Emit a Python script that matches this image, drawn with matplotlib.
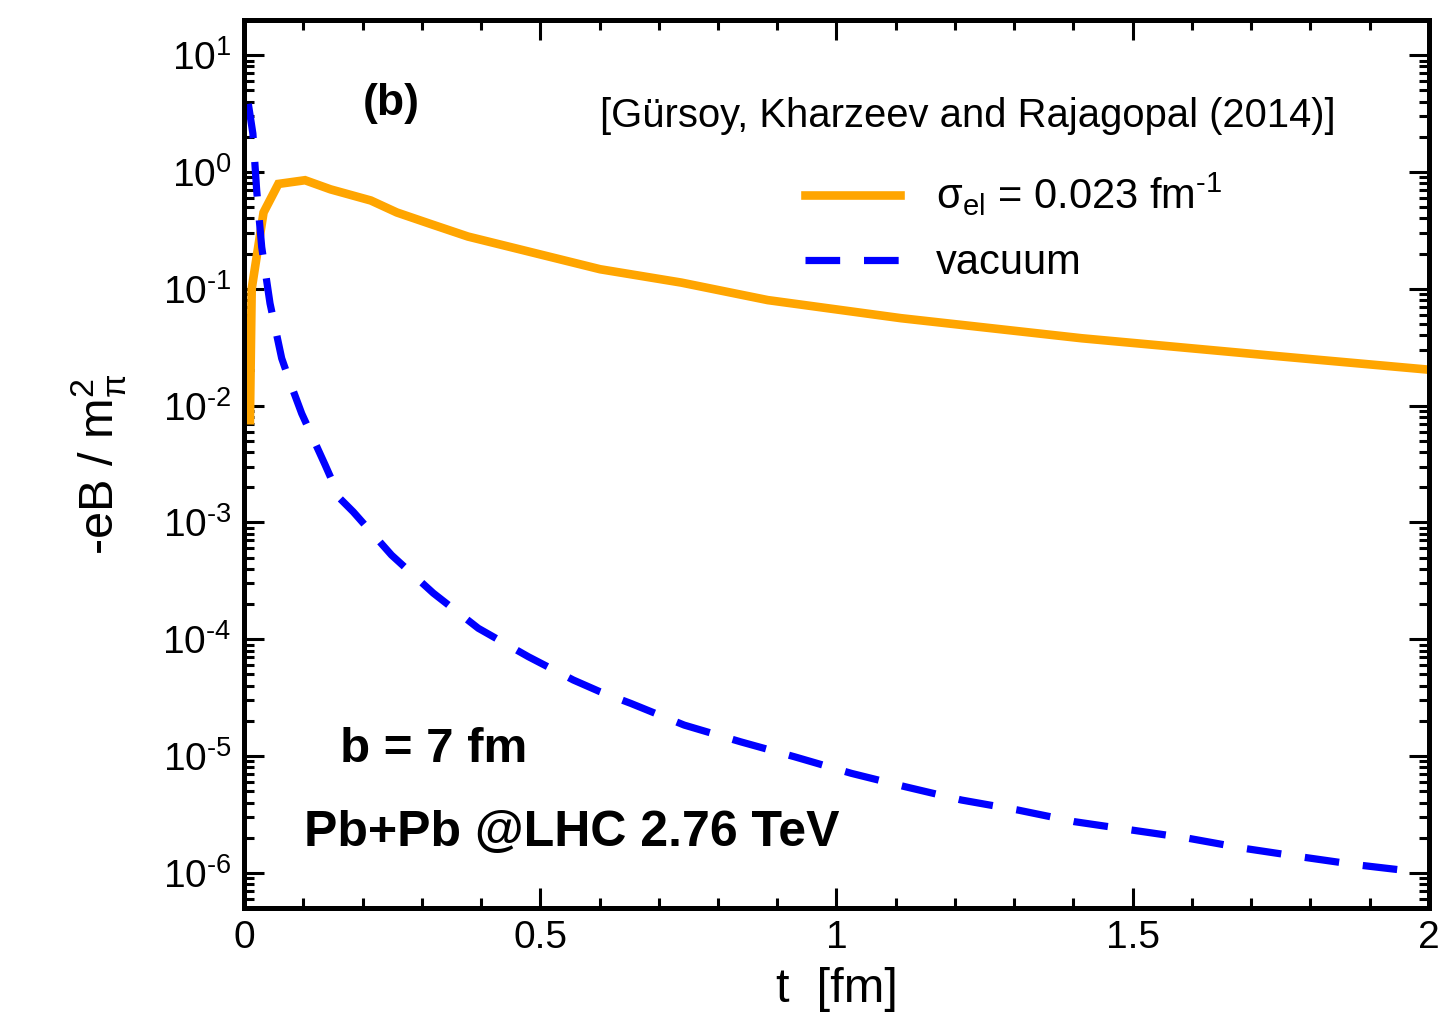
import math

import matplotlib

matplotlib.use("Agg")
import matplotlib.pyplot as plt  # noqa: E402
from matplotlib.ticker import FuncFormatter, LogLocator, MultipleLocator  # noqa: E402

plt.rcParams["font.family"] = ["Liberation Sans", "DejaVu Sans"]
plt.rcParams["mathtext.fontset"] = "custom"
plt.rcParams["mathtext.rm"] = "Liberation Sans"
plt.rcParams["mathtext.it"] = "Liberation Sans:italic"
plt.rcParams["mathtext.bf"] = "Liberation Sans:bold"
plt.rcParams["axes.unicode_minus"] = False

# sigma_el = 0.023 fm^-1
t_cond = [0.010, 0.013, 0.033, 0.058, 0.103, 0.146, 0.214, 0.258, 0.314, 0.378,
          0.601, 0.738, 0.884, 1.109, 1.414, 1.730, 1.990]
eb_cond = [0.0075, 0.10, 0.45, 0.79, 0.85, 0.71, 0.57, 0.45, 0.36, 0.28,
           0.147, 0.113, 0.080, 0.056, 0.0377, 0.0269, 0.0205]

# vacuum
t_vac = [0.0073, 0.015, 0.0214, 0.0299, 0.0439, 0.0636, 0.0776, 0.0974, 0.137, 0.162,
         0.1845, 0.249, 0.3195, 0.3955, 0.48, 0.556, 0.601, 0.653, 0.743, 0.839,
         0.929, 1.025, 1.116, 1.211, 1.306, 1.402, 1.497, 1.593, 1.688, 1.784,
         1.879, 1.980]
eb_vac = [3.83, 2.13, 0.695, 0.227, 0.075, 0.0254, 0.0159, 0.00855, 0.0031, 0.0016,
          0.00123, 5.25e-4, 2.48e-4, 1.24e-4, 7.08e-5, 4.47e-5, 3.55e-5, 2.82e-5,
          1.84e-5, 1.32e-5, 9.86e-6, 7.11e-6, 5.46e-6, 4.2e-6, 3.45e-6, 2.74e-6,
          2.33e-6, 1.98e-6, 1.62e-6, 1.37e-6, 1.17e-6, 1.02e-6]


def pow10(v, pos):
    # plain hyphen in the exponent, like the original
    e = int(round(math.log10(v)))
    return r"10$^{\text{%d}}$" % e


fig = plt.figure(figsize=(14.4, 10.26), dpi=100)
ax = fig.add_axes([244 / 1440, 1 - 908 / 1026, 1185 / 1440, 888 / 1026])

ax.plot(t_cond, eb_cond, color="#FFA500", lw=6.2, solid_joinstyle="miter",
        label=r"σ$_{\mathregular{el}}$ = 0.023 fm$^{\text{-1}}$")
ax.plot(t_vac, eb_vac, color="#0000FF", lw=5.2, dashes=(4.8, 3.3),
        label="vacuum")

ax.set_yscale("log")
ax.set_xlim(0, 2)
ax.set_ylim(5e-7, 20)

ax.xaxis.set_major_locator(MultipleLocator(0.5))
ax.xaxis.set_minor_locator(MultipleLocator(0.1))
ax.yaxis.set_major_locator(LogLocator(base=10, numticks=20))
ax.yaxis.set_minor_locator(LogLocator(base=10, subs=range(2, 10), numticks=20))
ax.yaxis.set_major_formatter(FuncFormatter(pow10))
ax.set_xticks([0, 0.5, 1, 1.5, 2], ["0", "0.5", "1", "1.5", "2"])

for s in ax.spines.values():
    s.set_linewidth(3.6)
ax.tick_params(which="both", direction="in", top=True, right=True, width=2.2,
               labelsize=28)
ax.tick_params(which="major", length=14.5, pad=9)
ax.tick_params(which="minor", length=7)

ax.set_xlabel("t  [fm]", fontsize=35)
ax.xaxis.set_label_coords(0.5, -0.066)
ax.set_ylabel(r"-eB / m$_{\mathregular{π}}^{\mathregular{2}}$", fontsize=35)
ax.yaxis.set_label_coords(-0.098, 0.5)

ax.legend(loc="upper left", bbox_to_anchor=(0.473, 0.83), frameon=False,
          fontsize=30, handlelength=2.3, handletextpad=0.85, labelspacing=0.6,
          borderpad=0, borderaxespad=0)

ax.text(0.124, 0.906, "(b)", transform=ax.transAxes, fontsize=32,
        fontweight="bold", ha="center", va="center")
ax.text(0.3004, 0.892, "[Gürsoy, Kharzeev and Rajagopal (2014)]",
        transform=ax.transAxes, fontsize=28.8, ha="left", va="center")
ax.text(0.081, 0.178, "b = 7 fm", transform=ax.transAxes, fontsize=35.5,
        fontweight="bold", ha="left", va="center")
ax.text(0.051, 0.085, "Pb+Pb @LHC 2.76 TeV", transform=ax.transAxes,
        fontsize=36, fontweight="bold", ha="left", va="center")

fig.savefig("out.png", dpi=100)
